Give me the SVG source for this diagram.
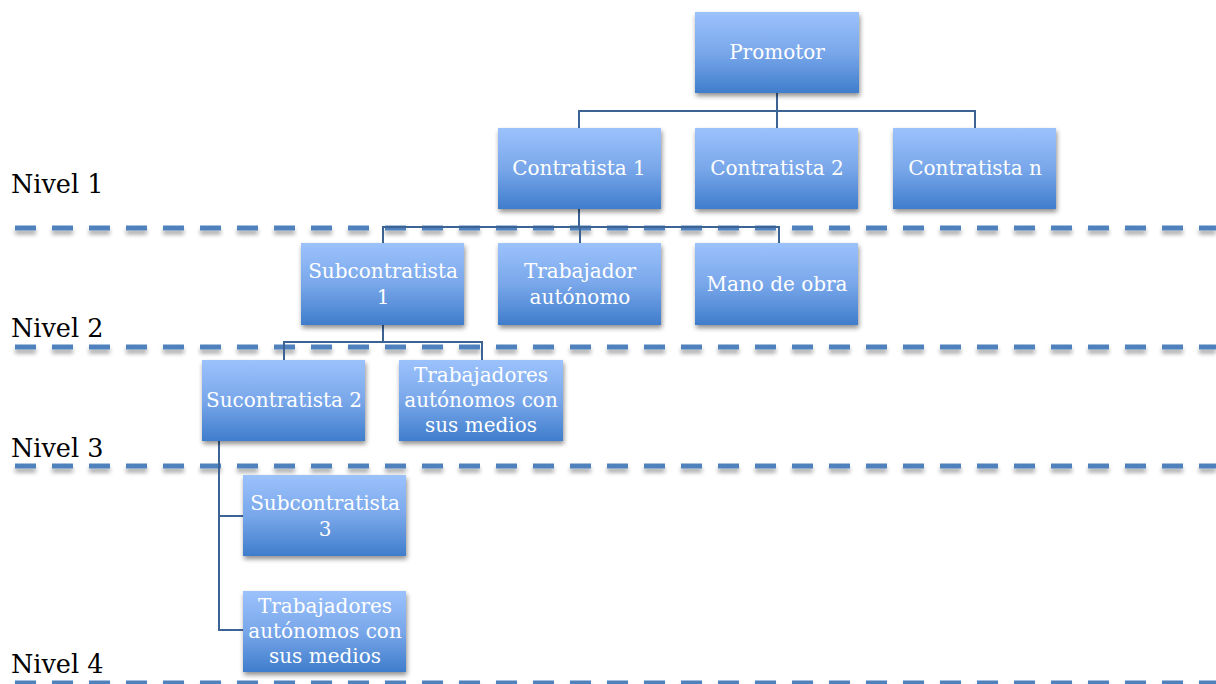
<svg xmlns="http://www.w3.org/2000/svg" width="1216" height="684" viewBox="0 0 1216 684">
<defs>
<linearGradient id="g" x1="0" y1="0" x2="0" y2="1">
<stop offset="0" stop-color="#9cc2fc"/>
<stop offset="0.5" stop-color="#79a7ea"/>
<stop offset="1" stop-color="#3f7dcc"/>
</linearGradient>
<filter id="sh" x="-10%" y="-10%" width="125%" height="135%">
<feGaussianBlur in="SourceAlpha" stdDeviation="2.5"/>
<feOffset dx="1" dy="3" result="b"/>
<feComponentTransfer><feFuncA type="linear" slope="0.45"/></feComponentTransfer>
<feMerge><feMergeNode/><feMergeNode in="SourceGraphic"/></feMerge>
</filter>
<filter id="lsh" filterUnits="userSpaceOnUse" x="0" y="0" width="1216" height="700">
<feGaussianBlur in="SourceAlpha" stdDeviation="2"/>
<feOffset dx="0" dy="4"/>
<feComponentTransfer><feFuncA type="linear" slope="0.35"/></feComponentTransfer>
<feMerge><feMergeNode/><feMergeNode in="SourceGraphic"/></feMerge>
</filter>
</defs>
<style>
.box{fill:url(#g);filter:url(#sh);}
.t{font-family:"DejaVu Serif","Liberation Serif",serif;font-size:20px;fill:#ffffff;text-anchor:middle;}
.lv{font-family:"DejaVu Serif","Liberation Serif",serif;font-size:25.5px;fill:#000000;}
.dash{stroke:#4f81bd;stroke-width:5;stroke-dasharray:21 16;fill:none;}
.c{stroke:#3b6495;stroke-width:2;fill:none;}
</style>
<g id="levels">
<g filter="url(#lsh)">
<line class="dash" x1="15" y1="228" x2="1216" y2="228"/>
<line class="dash" x1="15" y1="347" x2="1216" y2="347"/>
<line class="dash" x1="15" y1="466" x2="1216" y2="466"/>
<line class="dash" x1="15" y1="683" x2="1216" y2="683"/>
</g>
<text class="lv" x="11" y="193">Nivel 1</text>
<text class="lv" x="11" y="337">Nivel 2</text>
<text class="lv" x="11" y="457">Nivel 3</text>
<text class="lv" x="11" y="673">Nivel 4</text>
</g>
<g id="connectors">
<path class="c" d="M777 93V111M579 128V111H975V128M777 111V128"/>
<path class="c" d="M579 209V227M383 243V227H779V243M580 227V243"/>
<path class="c" d="M383 325V342M284 360V342H482V360"/>
<path class="c" d="M219 441V630H243M219 516H243"/>
</g>
<g id="promotor"><rect class="box" x="695" y="12" width="164" height="81"/><text class="t" x="777" y="59">Promotor</text></g>
<g id="contratista1"><rect class="box" x="498" y="128" width="163" height="81"/><text class="t" x="579" y="175">Contratista 1</text></g>
<g id="contratista2"><rect class="box" x="695" y="128" width="163" height="81"/><text class="t" x="777" y="175">Contratista 2</text></g>
<g id="contratistan"><rect class="box" x="893" y="128" width="163" height="81"/><text class="t" x="975" y="175">Contratista n</text></g>
<g id="subcontratista1"><rect class="box" x="301" y="243" width="163" height="82"/><text class="t" x="383" y="278">Subcontratista</text><text class="t" x="383" y="304">1</text></g>
<g id="trabajador"><rect class="box" x="498" y="243" width="163" height="82"/><text class="t" x="580" y="278">Trabajador</text><text class="t" x="580" y="304">autónomo</text></g>
<g id="manodeobra"><rect class="box" x="695" y="243" width="163" height="82"/><text class="t" x="777" y="291">Mano de obra</text></g>
<g id="sucontratista2"><rect class="box" x="202" y="360" width="163" height="81"/><text class="t" x="284" y="407">Sucontratista 2</text></g>
<g id="trabajadores3"><rect class="box" x="399" y="360" width="164" height="81"/><text class="t" x="481" y="382">Trabajadores</text><text class="t" x="481" y="407">autónomos con</text><text class="t" x="481" y="432">sus medios</text></g>
<g id="subcontratista3"><rect class="box" x="243" y="475" width="163" height="81"/><text class="t" x="325" y="510">Subcontratista</text><text class="t" x="325" y="536">3</text></g>
<g id="trabajadores4"><rect class="box" x="243" y="591" width="163" height="81"/><text class="t" x="325" y="613">Trabajadores</text><text class="t" x="325" y="638">autónomos con</text><text class="t" x="325" y="663">sus medios</text></g>
</svg>
